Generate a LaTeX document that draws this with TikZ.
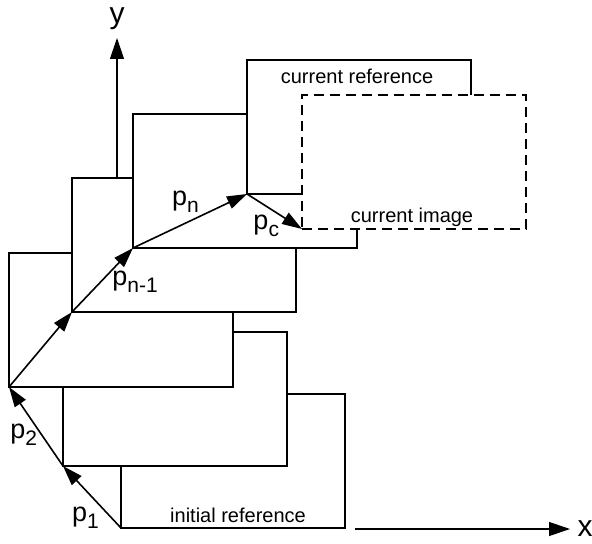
\documentclass[tikz,border=0pt]{standalone}
\usepackage{fontspec}
\setmainfont{Liberation Sans}
\usetikzlibrary{arrows.meta,positioning}

\newcommand{\pv}[1]{p\raisebox{-3.5pt}{\fontsize{10.5}{10.5}\selectfont #1}}

\begin{document}
\begin{tikzpicture}[
  x=0.5pt, y=-0.5pt,
  frame/.style={
    draw,
    fill=white,
    line width=1.4pt,
    minimum width=112pt,
    minimum height=67pt,
    inner sep=0pt,
    outer sep=0pt,
    anchor=south west
  },
  shifted/.style={frame, dash pattern=on 5pt off 3pt, line width=1.1pt},
  caption/.style={font=\fontsize{10}{12}\selectfont, inner sep=0pt, anchor=base},
  lbl/.style={font=\fontsize{13.5}{15}\selectfont, inner sep=0pt},
  axlbl/.style={font=\fontsize{15}{17}\selectfont, inner sep=0pt, anchor=base},
  vec/.style={-{Triangle[length=10pt,width=6.5pt]}, line width=0.8pt},
  axis/.style={-{Triangle[length=10.5pt,width=7pt]}, line width=0.6pt}
]
\useasboundingbox (0,0) rectangle (592,544);

% axes
\coordinate (yo) at (117,200);
\coordinate (ytip) at (117,38);
\coordinate (xo) at (355,529);
\coordinate (xtip) at (570,529);
\node[axlbl] (ylab) at (117,24) {y};
\node[axlbl] (xlab) at (585,536) {x};
\draw[axis] (yo) -- (ytip);
\draw[axis] (xo) -- (xtip);

% reference frames, oldest first
\node[frame] (r0) at (121,528) {};
\node[frame] (r1) at (63,466) {};
\node[frame] (r2) at (9,387) {};
\node[frame] (r3) at (72,312) {};
\node[frame] (r4) at (133,248) {};
\node[frame] (r5) at (247,194) {};
\node[shifted] (img) at (302,229) {};

\node[caption, xshift=2.5pt, yshift=3pt] (initref) at (r0.south) {initial reference};
\node[caption, xshift=-1pt, yshift=-12pt] (curref) at (r5.north) {current reference};
\node[caption, xshift=-1pt, yshift=3pt] (curimg) at (img.south) {current image};

% displacements
\draw[vec] (r0.south west) -- node[lbl, pos=.16, left=6pt] {\pv{1}} (r1.south west);
\draw[vec] (r1.south west) -- node[lbl, pos=.39, left=2pt] {\pv{2}} (r2.south west);
\draw[vec] (r2.south west) -- (r3.south west);
\draw[vec] (r3.south west) -- node[lbl, pos=.47, right=5.5pt] {\pv{n-1}} (r4.south west);
\draw[vec] (r4.south west) -- node[lbl, pos=.46, above=5pt] {\pv{n}} (r5.south west);
\draw[vec] (r5.south west) -- node[lbl, pos=.35, below=4pt] {\pv{c}} (img.south west);
\end{tikzpicture}
\end{document}
